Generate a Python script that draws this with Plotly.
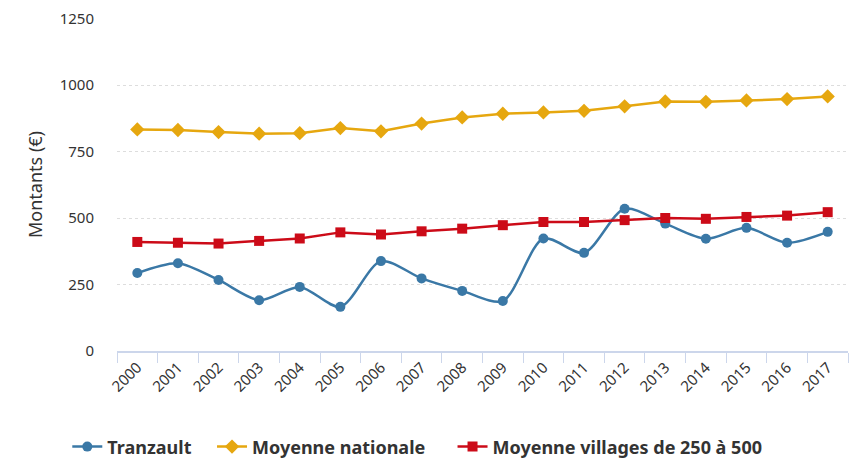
import plotly.graph_objs as go

years = [str(y) for y in range(2000, 2018)]
tranzault = [293, 330, 267, 191, 241, 166, 338, 273, 226, 188, 423, 369, 535, 479, 422, 463, 407, 448]
moy_nationale = [833, 831, 823, 817, 819, 838, 826, 855, 878, 892, 897, 903, 920, 938, 937, 942, 947, 957]
moy_villages = [410, 407, 404, 414, 423, 446, 438, 450, 460, 473, 485, 485, 492, 500, 497, 504, 509, 522]

font = "Noto Sans, Open Sans, sans-serif"

fig = go.Figure()
fig.add_trace(go.Scatter(x=years, y=tranzault, name="Tranzault", mode="lines+markers",
                         line=dict(color="#3a78a6", width=2.5, shape="spline", smoothing=0.8),
                         marker=dict(symbol="circle", size=10, color="#3a78a6"), legend="legend"))
fig.add_trace(go.Scatter(x=years, y=moy_nationale, name="Moyenne nationale", mode="lines+markers",
                         line=dict(color="#e6a70f", width=2.5),
                         marker=dict(symbol="diamond", size=11, color="#e6a70f"), legend="legend2"))
fig.add_trace(go.Scatter(x=years, y=moy_villages, name="Moyenne villages de 250 à 500", mode="lines+markers",
                         line=dict(color="#cc0b18", width=2.5),
                         marker=dict(symbol="square", size=10, color="#cc0b18"), legend="legend3"))

leg = dict(orientation="h", xanchor="left", y=-0.288, yanchor="middle",
           font=dict(size=18, color="#333333", weight="bold"), itemwidth=30, bgcolor="rgba(0,0,0,0)")

# page has an 8px body offset, so margins are shifted accordingly
fig.update_layout(
    width=859, height=459,
    margin=dict(l=109, r=19, t=10, b=116, autoexpand=False),
    paper_bgcolor="white", plot_bgcolor="white",
    font=dict(family=font, size=14, color="#333333"),
    showlegend=True,
    legend=dict(leg, x=-0.068),
    legend2=dict(leg, x=0.130),
    legend3=dict(leg, x=0.459),
)
fig.update_xaxes(type="category", range=[-0.5, 17.5], tickson="boundaries", tickangle=-45,
                 showline=True, linecolor="#ccd6eb", linewidth=1.5, ticks="outside",
                 tickcolor="#ccd6eb", ticklen=10, showgrid=False, automargin=False,
                 tickfont=dict(size=15, color="#333333"))
fig.update_yaxes(range=[0, 1252], tickvals=[0, 250, 500, 750, 1000, 1250],
                 showgrid=True, gridcolor="#dddddd", griddash="dot", gridwidth=1,
                 zeroline=False, showline=False, ticklabelstandoff=22, automargin=False,
                 ticklabeloverflow="allow",
                 title=dict(text="Montants (€)", font=dict(size=18, color="#333333"), standoff=12),
                 tickfont=dict(size=15, color="#333333"))

fig.write_html("out.html")
